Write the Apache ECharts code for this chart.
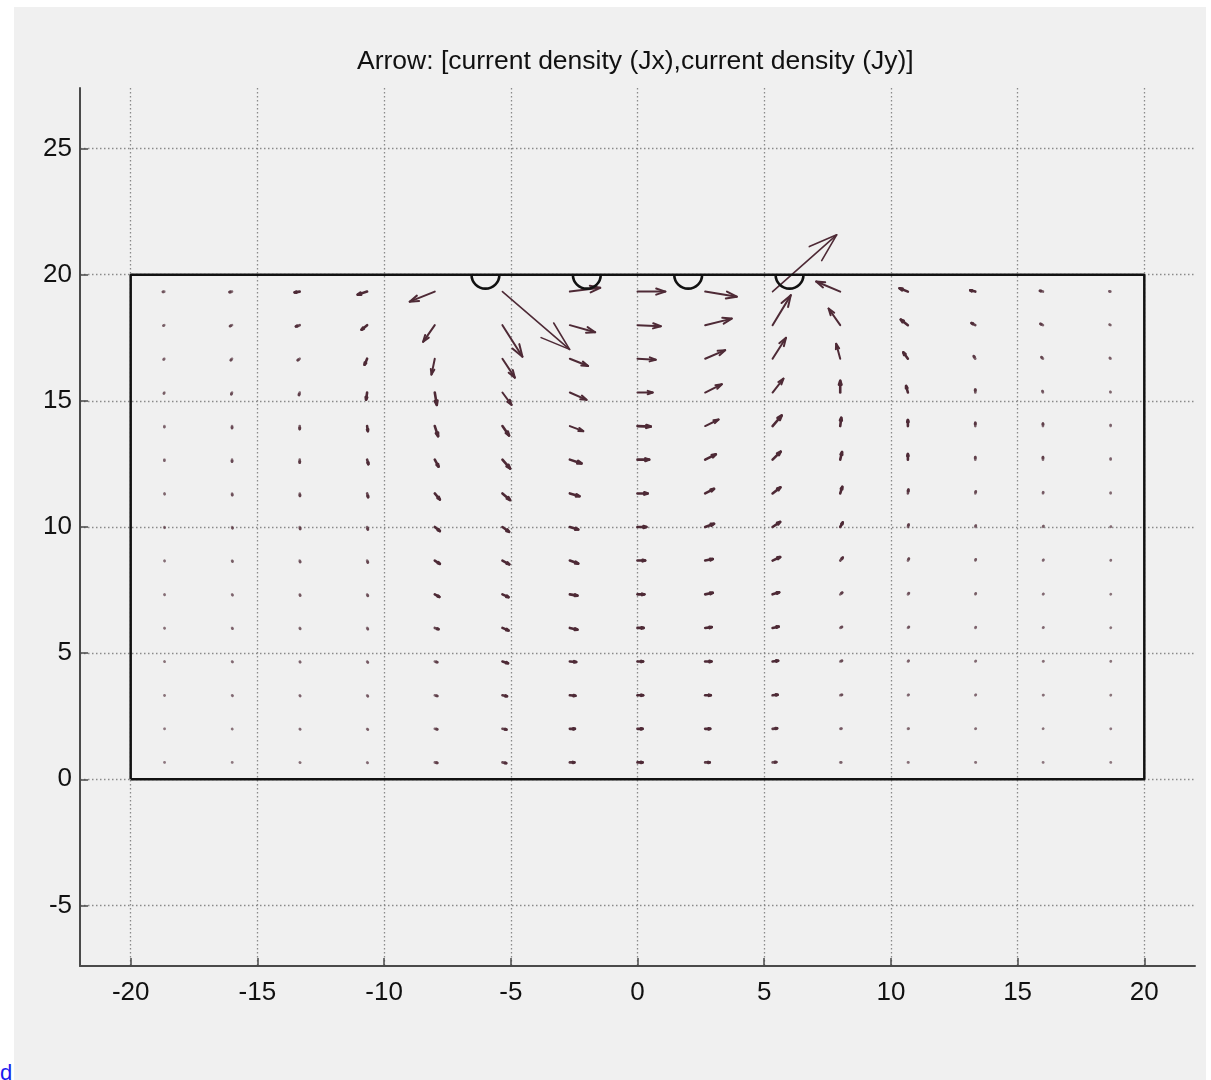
<!DOCTYPE html>
<html>
<head>
<meta charset="utf-8">
<script src="https://cdn.jsdelivr.net/npm/echarts@6/dist/echarts.min.js"></script>
<style>
  html, body { margin: 0; padding: 0; background: #ffffff; width: 1211px; height: 1080px; overflow: hidden; }
  #chart { position: absolute; left: 14px; top: 7px; width: 1192px; height: 1073px; }
  #frag { position: absolute; left: 0px; top: 1060px; color: #1a1aee; font: 22px "Liberation Sans", Arial, sans-serif; }
</style>
</head>
<body>
<div id="chart"></div>
<div id="frag">d</div>
<script>
// ---- data ----
const titleText = 'Arrow: [current density (Jx),current density (Jy)]';
const xTicks = [-20, -15, -10, -5, 0, 5, 10, 15, 20];
const yTicks = [-5, 0, 5, 10, 15, 20, 25];

// grid of arrow tails
const colX = [-18.67, -16, -13.33, -10.67, -8, -5.33, -2.67, 0, 2.67, 5.33, 8, 10.67, 13.33, 16, 18.67];
const rowY = [19.33, 18, 16.67, 15.33, 14, 12.67, 11.33, 10, 8.67, 7.33, 6, 4.67, 3.33, 2, 0.67];

// arrow components (as drawn, in axis units); rows top -> bottom, columns left -> right
const jx = [
  [-0.06, -0.10, -0.20, -0.37, -0.99, 2.65, 1.20, 1.10, 1.25, 2.53, -0.95, -0.33, -0.20, -0.12, -0.05],
  [-0.04, -0.08, -0.15, -0.22, -0.46, 0.79, 1.00, 0.92, 1.05, 0.72, -0.46, -0.28, -0.15, -0.10, -0.04],
  [-0.03, -0.05, -0.08, -0.10, -0.13, 0.49, 0.72, 0.72, 0.79, 0.53, -0.16, -0.18, -0.06, -0.06, -0.03],
  [-0.02, -0.03, -0.03, -0.04, 0.08, 0.36, 0.66, 0.60, 0.66, 0.43, 0.00, -0.07, 0.00, -0.02, -0.01],
  [0.00, 0.00, 0.00, 0.03, 0.13, 0.26, 0.53, 0.52, 0.53, 0.36, 0.04, 0.00, 0.00, 0.00, 0.00],
  [0.00, 0.00, 0.00, 0.05, 0.15, 0.30, 0.46, 0.46, 0.42, 0.32, 0.07, 0.00, 0.00, 0.00, 0.00],
  [0.01, 0.01, 0.01, 0.04, 0.20, 0.30, 0.38, 0.40, 0.35, 0.31, 0.08, 0.02, 0.02, 0.01, 0.00],
  [0.01, 0.02, 0.02, 0.03, 0.20, 0.26, 0.33, 0.35, 0.35, 0.30, 0.10, 0.03, 0.02, 0.02, 0.01],
  [0.01, 0.02, 0.02, 0.03, 0.20, 0.27, 0.33, 0.30, 0.30, 0.30, 0.10, 0.04, 0.02, 0.02, 0.01],
  [0.01, 0.02, 0.02, 0.03, 0.18, 0.24, 0.30, 0.27, 0.30, 0.26, 0.08, 0.04, 0.02, 0.02, 0.01],
  [0.01, 0.02, 0.02, 0.03, 0.15, 0.24, 0.30, 0.24, 0.26, 0.24, 0.07, 0.04, 0.02, 0.02, 0.01],
  [0.01, 0.02, 0.02, 0.03, 0.10, 0.22, 0.25, 0.22, 0.25, 0.22, 0.07, 0.03, 0.02, 0.02, 0.01],
  [0.01, 0.02, 0.02, 0.03, 0.10, 0.18, 0.22, 0.22, 0.22, 0.20, 0.07, 0.03, 0.02, 0.02, 0.01],
  [0.01, 0.01, 0.02, 0.03, 0.10, 0.16, 0.20, 0.20, 0.20, 0.18, 0.05, 0.03, 0.02, 0.01, 0.01],
  [0.01, 0.01, 0.02, 0.02, 0.10, 0.15, 0.18, 0.20, 0.18, 0.15, 0.04, 0.02, 0.02, 0.01, 0.01]
];
const jy = [
  [-0.01, -0.02, -0.03, -0.12, -0.40, -2.29, 0.15, 0.00, -0.20, 2.25, 0.40, 0.13, 0.05, 0.03, 0.01],
  [-0.02, -0.04, -0.05, -0.18, -0.66, -1.25, -0.28, -0.04, 0.26, 1.19, 0.66, 0.22, 0.08, 0.05, 0.02],
  [-0.03, -0.06, -0.06, -0.24, -0.63, -0.75, -0.29, -0.04, 0.34, 0.83, 0.59, 0.25, 0.10, 0.06, 0.03],
  [-0.04, -0.07, -0.10, -0.28, -0.49, -0.49, -0.29, 0.00, 0.33, 0.55, 0.46, 0.26, 0.12, 0.06, 0.03],
  [-0.04, -0.08, -0.12, -0.20, -0.40, -0.37, -0.20, -0.02, 0.26, 0.42, 0.33, 0.24, 0.13, 0.10, 0.04],
  [-0.04, -0.08, -0.12, -0.18, -0.28, -0.35, -0.15, 0.00, 0.21, 0.32, 0.30, 0.22, 0.10, 0.10, 0.04],
  [-0.03, -0.07, -0.10, -0.15, -0.24, -0.26, -0.11, 0.00, 0.18, 0.24, 0.26, 0.15, 0.08, 0.05, 0.03],
  [-0.03, -0.05, -0.08, -0.10, -0.16, -0.19, -0.10, 0.00, 0.13, 0.20, 0.18, 0.10, 0.06, 0.04, 0.02],
  [-0.02, -0.04, -0.06, -0.08, -0.13, -0.15, -0.12, 0.00, 0.06, 0.14, 0.12, 0.08, 0.05, 0.03, 0.02],
  [-0.02, -0.03, -0.05, -0.06, -0.10, -0.11, -0.05, 0.00, 0.06, 0.08, 0.07, 0.05, 0.04, 0.02, 0.01],
  [-0.02, -0.03, -0.04, -0.05, -0.05, -0.10, -0.07, 0.00, 0.03, 0.05, 0.04, 0.04, 0.03, 0.02, 0.01],
  [-0.01, -0.02, -0.03, -0.04, -0.03, -0.07, -0.02, 0.00, 0.00, 0.03, 0.03, 0.03, 0.02, 0.01, 0.01],
  [-0.01, -0.02, -0.03, -0.04, -0.03, -0.04, -0.02, 0.00, 0.00, 0.02, 0.02, 0.02, 0.02, 0.01, 0.01],
  [0.00, -0.01, -0.02, -0.03, -0.02, -0.03, 0.00, 0.00, 0.00, 0.02, 0.01, 0.01, 0.01, 0.01, 0.00],
  [0.00, 0.00, -0.01, -0.02, -0.02, -0.03, 0.00, 0.00, 0.00, 0.01, 0.00, 0.00, 0.00, 0.00, 0.00]
];

// domain outline and electrodes
const boxX = [-20, 20, 20, -20, -20];
const boxY = [0, 0, 20, 20, 0];
const electrodeX = [-6, -2, 2, 6];
const electrodeY = [20, 20, 20, 20];
const electrodeR = 0.55;

// ---- build series data ----
const arrowData = [];
for (let r = 0; r < rowY.length; r++) {
  for (let c = 0; c < colX.length; c++) {
    arrowData.push([colX[c], rowY[r], jx[r][c], jy[r][c]]);
  }
}
const boxData = boxX.map((x, i) => [x, boxY[i]]);
const elecData = electrodeX.map((x, i) => [x, electrodeY[i], electrodeR]);

const arrowColor = '#4e2a36';

const chart = echarts.init(document.getElementById('chart'), null, { renderer: 'canvas' });
const font = '"Liberation Sans", Arial, Helvetica, sans-serif';

chart.setOption({
  backgroundColor: '#f0f0f0',
  animation: false,
  graphic: [{
    type: 'text',
    left: 343,
    top: 41,
    style: { text: titleText, font: '26.5px ' + font, fill: '#111111' }
  }],
  grid: { left: 66, top: 81, width: 1115, height: 878, containLabel: false },
  xAxis: {
    type: 'value', min: -22, max: 22,
    axisLine: { show: true, onZero: false, lineStyle: { color: '#4a4a4a', width: 2 } },
    axisTick: { show: true, inside: true, length: 8, customValues: xTicks, lineStyle: { color: '#4a4a4a', width: 1.5 } },
    axisLabel: { customValues: xTicks, color: '#111111', fontSize: 26, fontFamily: font, margin: 14 },
    splitLine: { show: true, lineStyle: { color: '#8a8a8a', width: 1.3, type: [1.5, 2.5] } }
  },
  yAxis: {
    type: 'value', min: -7.4, max: 27.4,
    axisLine: { show: true, onZero: false, lineStyle: { color: '#4a4a4a', width: 2 } },
    axisTick: { show: true, inside: true, length: 8, customValues: yTicks, lineStyle: { color: '#4a4a4a', width: 1.5 } },
    axisLabel: { customValues: yTicks, color: '#111111', fontSize: 26, fontFamily: font, margin: 8 },
    splitLine: { show: true, lineStyle: { color: '#8a8a8a', width: 1.3, type: [1.5, 2.5] } }
  },
  series: [
    {
      type: 'custom',
      name: 'J',
      coordinateSystem: 'cartesian2d',
      data: arrowData,
      z: 3,
      renderItem: function (params, api) {
        const x = api.value(0), y = api.value(1), u = api.value(2), v = api.value(3);
        const p0 = api.coord([x, y]);
        const p1 = api.coord([x + u, y + v]);
        const dx = p1[0] - p0[0], dy = p1[1] - p0[1];
        const L = Math.hypot(dx, dy);
        const a = 0.33, b = 0.33;
        const h1 = [p1[0] - a * (dx + b * dy), p1[1] - a * (dy - b * dx)];
        const h2 = [p1[0] - a * (dx - b * dy), p1[1] - a * (dy + b * dx)];
        const op = Math.max(0.35, Math.min(1, 0.35 + L / 8));
        const st = { stroke: arrowColor, lineWidth: L < 14 ? 2.6 : (L < 40 ? 2 : 1.6), fill: null, lineCap: 'round', lineJoin: 'round', opacity: op };
        return {
          type: 'group',
          children: [
            { type: 'polyline', shape: { points: [p0, p1] }, style: st },
            { type: 'polyline', shape: { points: [h1, p1, h2] }, style: st }
          ]
        };
      }
    },
    {
      type: 'line',
      name: 'domain',
      data: boxData,
      symbol: 'none',
      z: 4,
      lineStyle: { color: '#111111', width: 2.5 }
    },
    {
      type: 'custom',
      name: 'electrodes',
      coordinateSystem: 'cartesian2d',
      data: elecData,
      z: 5,
      renderItem: function (params, api) {
        const c = api.coord([api.value(0), api.value(1)]);
        const r = api.size([api.value(2), 0])[0];
        return {
          type: 'arc',
          shape: { cx: c[0], cy: c[1], r: r, startAngle: 0, endAngle: Math.PI, clockwise: true },
          style: { stroke: '#111111', lineWidth: 2.6, fill: null }
        };
      }
    }
  ]
});
</script>
</body>
</html>
